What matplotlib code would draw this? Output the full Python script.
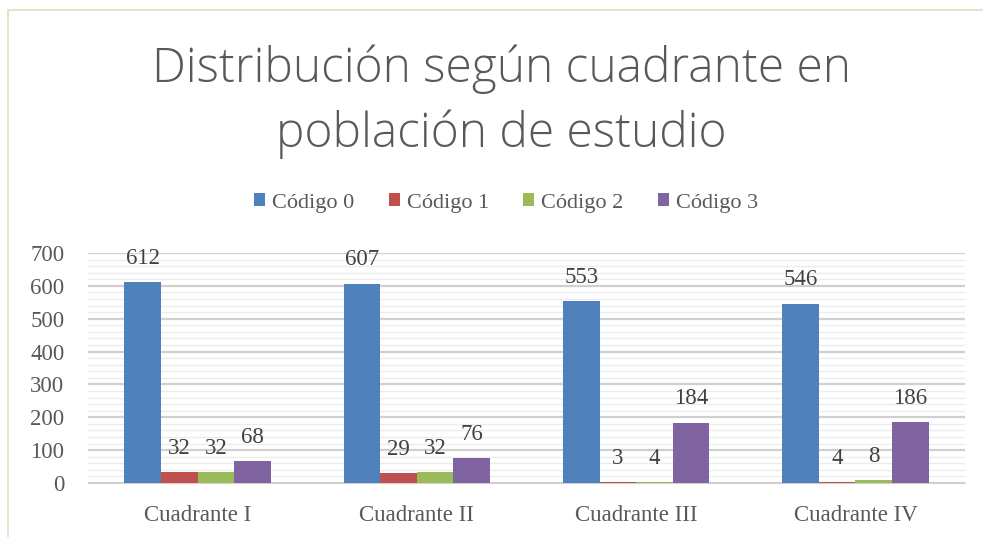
import matplotlib.pyplot as plt
import numpy as np
from matplotlib.patches import Rectangle

cuadrantes = ['Cuadrante I', 'Cuadrante II', 'Cuadrante III', 'Cuadrante IV']
codigo_0 = [612, 607, 553, 546]
codigo_1 = [32, 29, 3, 4]
codigo_2 = [32, 32, 4, 8]
codigo_3 = [68, 76, 184, 186]
series = ['Código 0', 'Código 1', 'Código 2', 'Código 3']
colores = ['#4f81bd', '#c0504d', '#9bbb59', '#8064a2']

TXT = '#595959'
SERIF = 'Liberation Serif'

fig = plt.figure(figsize=(9.83, 5.37), dpi=100)
# light frame of the chart area
fig.patches.append(Rectangle((8 / 983, -0.1), 1.1, 1 - 10 / 537 + 0.1,
                             transform=fig.transFigure, fill=False,
                             edgecolor='#d7e4bd', linewidth=1.2))

ax = fig.add_axes([88 / 983, (537 - 483) / 537, (965 - 88) / 983, (483 - 253) / 537])

x = np.arange(len(cuadrantes))
w = 0.167
valores = [codigo_0, codigo_1, codigo_2, codigo_3]
for i, (vals, nombre, c) in enumerate(zip(valores, series, colores)):
    pos = x + (i - 1.5) * w
    ax.bar(pos, vals, w, color=c, label=nombre, zorder=3)
    for p, v in zip(pos, vals):
        ax.text(p, v + 40, str(v), ha='center', va='bottom', fontsize=16.5,
                family=SERIF, color='#404040', zorder=4)

ax.set_xlim(-0.5, 3.5)
ax.set_ylim(0, 700)
ax.set_yticks(range(0, 701, 100))
ax.set_yticks(range(0, 701, 20), minor=True)
ax.grid(axis='y', which='major', color='#d0d0d0', linewidth=1.6, zorder=0)
ax.grid(axis='y', which='minor', color='#ececec', linewidth=1.0, zorder=0)
ax.set_xticks(x)
ax.set_xticklabels(cuadrantes)
for s in ['top', 'right', 'left']:
    ax.spines[s].set_visible(False)
ax.spines['bottom'].set_color('#d0d0d0')
ax.tick_params(axis='both', which='both', length=0)
ax.tick_params(axis='y', pad=17)
ax.tick_params(axis='x', pad=16)
for lbl in ax.get_xticklabels() + ax.get_yticklabels():
    lbl.set_family(SERIF)
    lbl.set_fontsize(16.5)
    lbl.set_color(TXT)

fig.text(501 / 983, 1 - 102 / 537, 'Distribución según cuadrante en\npoblación de estudio',
         ha='center', va='center', fontsize=34.5, family='Open Sans',
         fontweight='light', color=TXT, linespacing=1.4)

leg = fig.legend(loc='center', bbox_to_anchor=(506 / 983, (537 - 203) / 537), ncol=4,
                 frameon=False, prop={'family': SERIF, 'size': 16},
                 handlelength=0.5, handleheight=0.5, handletextpad=0.3,
                 columnspacing=1.55)
for t in leg.get_texts():
    t.set_color(TXT)

fig.savefig('out.png', dpi=100)
